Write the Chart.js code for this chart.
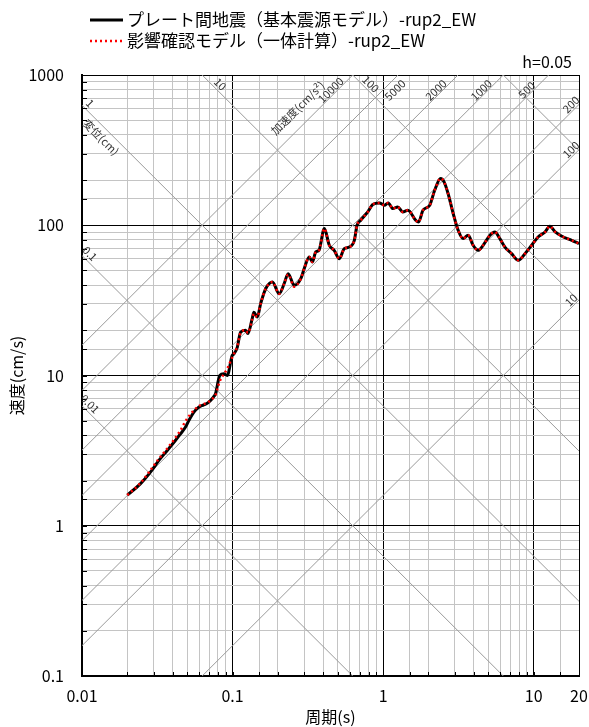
<!DOCTYPE html>
<html>
<head>
<meta charset="utf-8">
<script src="https://cdn.jsdelivr.net/npm/chart.js@4.4.1/dist/chart.umd.min.js"></script>
<style>
  html, body { margin: 0; padding: 0; background: #fff; }
  #wrap { width: 589px; height: 727px; }
</style>
</head>
<body>
<div id="wrap"><canvas id="spec" width="589" height="727"></canvas></div>
<script>
'use strict';

var FONT = '"Noto Sans CJK JP", "Noto Sans", sans-serif';

// 周期 (s)
var periods = [
    0.02, 0.0244, 0.029, 0.0323, 0.0367, 0.0417, 0.045, 0.0486, 0.0512, 0.0552,
    0.0596, 0.0644, 0.0695, 0.075, 0.077, 0.0823, 0.0875, 0.0922, 0.0995, 0.102,
    0.1075, 0.113, 0.122, 0.1265, 0.135, 0.1385, 0.146, 0.1537, 0.166, 0.184,
    0.204, 0.22, 0.234, 0.2566, 0.284, 0.299, 0.323, 0.339, 0.357, 0.375,
    0.407, 0.439, 0.473, 0.512, 0.552, 0.596, 0.644, 0.671, 0.71, 0.791,
    0.853, 0.945, 1.02, 1.08, 1.16, 1.25, 1.35, 1.46, 1.66, 1.72,
    1.84, 2.04, 2.2, 2.41, 2.54, 2.7, 2.92, 3.15, 3.4, 3.67,
    3.96, 4.28, 4.62, 5.12, 5.52, 5.96, 6.44, 7.13, 7.91, 8.75,
    9.7, 10.7, 11.9, 12.8, 13.9, 15.4, 17.9, 20
];

// 速度 (cm/s) プレート間地震(基本震源モデル)
var velBase = [
    1.60, 1.90, 2.33, 2.71, 3.16, 3.69, 4.08, 4.52, 5.01, 5.69,
    6.15, 6.37, 6.64, 7.24, 7.55, 10.0, 10.26, 10.0, 13.6, 13.9,
    15.4, 19.4, 20.0, 19.0, 23.9, 26.4, 24.5, 30.1, 37.8, 41.9,
    35.0, 40.8, 47.6, 39.8, 44.1, 51.4, 61.5, 56.9, 66.4, 68.1,
    95, 73.6, 68.1, 59.9, 69.9, 71.6, 79.4, 100, 108, 122.7,
    137.4, 140.9, 135.9, 140.9, 129.2, 132.4, 122.7, 125.9, 106.9, 105.2,
    125.9, 135.9, 171, 204.8, 194.4, 162.6, 119.7, 92.6, 81.5, 85.8,
    73.6, 68.1, 73.6, 85.8, 90.2, 81.5, 71.6, 64.7, 58.5, 64.7,
    73.6, 83.5, 90.2, 98.5, 90.2, 84.5, 79.4, 75.5
];

// 速度 (cm/s) 影響確認モデル(一体計算)
var velCheck = [
    1.60, 1.92, 2.40, 2.78, 3.25, 3.85, 4.30, 4.95, 5.35, 5.85,
    6.25, 6.45, 6.70, 7.15, 7.40, 9.20, 10.2, 11.1, 13.2, 13.9,
    15.6, 19.2, 20.0, 19.2, 23.6, 25.8, 24.5, 30.1, 37.8, 41.9,
    35.0, 40.8, 47.0, 39.0, 44.1, 51.4, 61.5, 56.9, 66.4, 68.1,
    95, 73.6, 68.1, 59.9, 69.9, 71.6, 79.4, 100, 108, 122.7,
    137.4, 140.9, 135.9, 140.9, 129.2, 132.4, 122.7, 125.9, 106.9, 105.2,
    125.9, 135.9, 171, 204.8, 194.4, 162.6, 119.7, 92.6, 81.5, 85.8,
    73.6, 68.1, 73.6, 85.8, 90.2, 81.5, 71.6, 64.7, 58.5, 64.7,
    73.6, 83.5, 90.2, 98.5, 90.2, 84.5, 79.4, 75.5
];

var seriesNames = ['プレート間地震（基本震源モデル）-rup2_EW', '影響確認モデル（一体計算）-rup2_EW'];
var periodTicks = [0.01, 0.1, 1, 10, 20];
var velTicks = [0.1, 1, 10, 100, 1000];
var dispLines = [0.01, 0.1, 1, 10, 100, 1000];                 // 変位 cm
var accLines = [10, 100, 200, 500, 1000, 2000, 5000, 10000];    // 加速度 cm/s2
var dampingText = 'h=0.05';

function pairs(xs, ys) {
    return xs.map(function (x, i) { return { x: x, y: ys[i] }; });
}

function inList(v, list) {
    for (var i = 0; i < list.length; i++) {
        if (Math.abs(Math.log10(v) - Math.log10(list[i])) < 1e-6) return true;
    }
    return false;
}

function isDecade(v) {
    var l = Math.log10(v);
    return Math.abs(l - Math.round(l)) < 1e-6;
}

// 三軸の斜線とラベル
var tripartite = {
    id: 'tripartite',
    beforeDatasetsDraw: function (chart) {
        var ctx = chart.ctx,
            area = chart.chartArea,
            xs = chart.scales.x,
            ys = chart.scales.y,
            tMin = xs.min,
            tMax = xs.max,
            PI2 = 2 * Math.PI;

        ctx.save();
        ctx.beginPath();
        ctx.rect(area.left, area.top, area.right - area.left, area.bottom - area.top);
        ctx.clip();
        ctx.strokeStyle = '#9a9a9a';
        ctx.lineWidth = 1;

        dispLines.forEach(function (d) {
            ctx.beginPath();
            ctx.moveTo(xs.getPixelForValue(tMin), ys.getPixelForValue(PI2 * d / tMin));
            ctx.lineTo(xs.getPixelForValue(tMax), ys.getPixelForValue(PI2 * d / tMax));
            ctx.stroke();
        });
        accLines.forEach(function (a) {
            ctx.beginPath();
            ctx.moveTo(xs.getPixelForValue(tMin), ys.getPixelForValue(a * tMin / PI2));
            ctx.lineTo(xs.getPixelForValue(tMax), ys.getPixelForValue(a * tMax / PI2));
            ctx.stroke();
        });

        // inward tick marks
        ctx.strokeStyle = '#000';
        xs.ticks.forEach(function (t) {
            var px = Math.round(xs.getPixelForValue(t.value)) + 0.5;
            ctx.beginPath();
            ctx.moveTo(px, area.bottom);
            ctx.lineTo(px, area.bottom - 4);
            ctx.stroke();
        });
        ys.ticks.forEach(function (t) {
            var py = Math.round(ys.getPixelForValue(t.value)) + 0.5;
            ctx.beginPath();
            ctx.moveTo(area.left, py);
            ctx.lineTo(area.left + 5, py);
            ctx.stroke();
        });

        // labels
        ctx.fillStyle = '#333';
        ctx.font = '11px ' + FONT;
        ctx.textAlign = 'center';
        ctx.textBaseline = 'middle';

        function put(text, x, y, ang) {
            ctx.save();
            ctx.translate(x, y);
            ctx.rotate(ang);
            ctx.fillText(text, 0, 0);
            ctx.restore();
        }
        function dispY(d, px) {
            return ys.getPixelForValue(PI2 * d / xs.getValueForPixel(px));
        }
        function dispX(d, py) {
            return xs.getPixelForValue(PI2 * d / ys.getValueForPixel(py));
        }
        function accX(a, py) {
            return xs.getPixelForValue(ys.getValueForPixel(py) * PI2 / a);
        }
        function accY(a, px) {
            return ys.getPixelForValue(a * xs.getValueForPixel(px) / PI2);
        }

        var down = Math.PI / 4, up = -Math.PI / 4;
        dispLines.forEach(function (d) {
            var yl = ys.getPixelForValue(PI2 * d / tMin);
            if (yl >= area.top && yl <= area.bottom) {
                put(String(d), area.left + 8, dispY(d, area.left + 8) - 10, down);
            } else if (d <= 100) {
                var yy = area.top + 9;
                put(String(d), dispX(d, yy) + 9, yy, down);
            }
        });
        put('変位(cm)', area.left + 19, dispY(1, area.left + 19) + 13, down);

        accLines.forEach(function (a) {
            var yr = ys.getPixelForValue(a * tMax / PI2);
            if (yr >= area.top && yr <= area.bottom) {
                var xx = area.right - 8;
                put(String(a), xx, accY(a, xx) - 8, up);
            } else {
                var yy = area.top + 15;
                var dx = a === 5000 ? 12 : -7;
                put(String(a), accX(a, yy) + dx, yy, up);
            }
        });
        var ya = area.top + 33;
        put('加速度(cm/s²)', accX(10000, ya) - 22, ya, up);

        ctx.restore();
    },
    afterDraw: function (chart) {
        var ctx = chart.ctx,
            ds = chart.data.datasets;
        ctx.save();
        ctx.font = '17px ' + FONT;
        ctx.textBaseline = 'middle';
        ctx.textAlign = 'left';
        ctx.fillStyle = '#000';
        [20, 41].forEach(function (y, i) {
            var d = ds[i];
            ctx.strokeStyle = d.borderColor;
            ctx.lineWidth = d.borderWidth;
            ctx.setLineDash(d.borderDash || []);
            ctx.beginPath();
            ctx.moveTo(90, y);
            ctx.lineTo(123, y);
            ctx.stroke();
            ctx.fillText(seriesNames[i], 127, y);
        });
        ctx.setLineDash([]);
        ctx.font = '16px ' + FONT;
        ctx.textAlign = 'right';
        ctx.fillText(dampingText, 572, 62);
        ctx.restore();
    }
};

var MINOR = '#c4c4c4';

function xGridColor(c) {
    if (!c.tick) return MINOR;
    var v = c.tick.value;
    return (isDecade(v) || v === 20) ? '#000' : MINOR;
}

function yGridColor(c) {
    if (!c.tick) return MINOR;
    return isDecade(c.tick.value) ? '#000' : MINOR;
}

var chart = new Chart(document.getElementById('spec').getContext('2d'), {
    type: 'scatter',
    data: {
        datasets: [{
            label: seriesNames[0],
            data: pairs(periods, velBase),
            showLine: true,
            borderColor: '#000',
            borderWidth: 3,
            pointRadius: 0,
            cubicInterpolationMode: 'monotone',
            order: 1
        }, {
            label: seriesNames[1],
            data: pairs(periods, velCheck),
            showLine: true,
            borderColor: '#ff0000',
            borderWidth: 2.5,
            borderDash: [2, 3],
            pointRadius: 0,
            cubicInterpolationMode: 'monotone',
            order: 0
        }]
    },
    options: {
        responsive: false,
        animation: false,
        devicePixelRatio: 1,
        layout: { padding: { left: 0, top: 75, right: 10, bottom: 0 } },
        plugins: {
            legend: { display: false },
            title: { display: false },
            tooltip: { enabled: false }
        },
        scales: {
            x: {
                type: 'logarithmic',
                min: 0.01,
                max: 20,
                afterFit: function (s) {
                    s.height = 51;
                    s.paddingLeft = 0;
                    s.paddingRight = 0;
                },
                border: { color: '#000', width: 2 },
                grid: { color: xGridColor, lineWidth: 1, drawTicks: false },
                ticks: {
                    autoSkip: false,
                    maxRotation: 0,
                    padding: 10,
                    color: '#000',
                    font: { family: FONT, size: 16 },
                    callback: function (v) { return inList(v, periodTicks) ? String(v) : ''; }
                },
                title: {
                    display: true,
                    text: '周期(s)',
                    color: '#000',
                    font: { family: FONT, size: 16 },
                    padding: { top: 0, bottom: 0 }
                }
            },
            y: {
                type: 'logarithmic',
                min: 0.1,
                max: 1000,
                afterFit: function (s) {
                    s.width = 82;
                    s.paddingTop = 0;
                    s.paddingBottom = 0;
                },
                border: { color: '#000', width: 2 },
                grid: { color: yGridColor, lineWidth: 1, drawTicks: false },
                ticks: {
                    autoSkip: false,
                    padding: 18,
                    color: '#000',
                    font: { family: FONT, size: 16 },
                    callback: function (v) { return inList(v, velTicks) ? String(v) : ''; }
                },
                title: {
                    display: true,
                    text: '速度(cm/s)',
                    color: '#000',
                    font: { family: FONT, size: 16 },
                    padding: { top: 7, bottom: 0 }
                }
            }
        }
    },
    plugins: [tripartite]
});
</script>
</body>
</html>
